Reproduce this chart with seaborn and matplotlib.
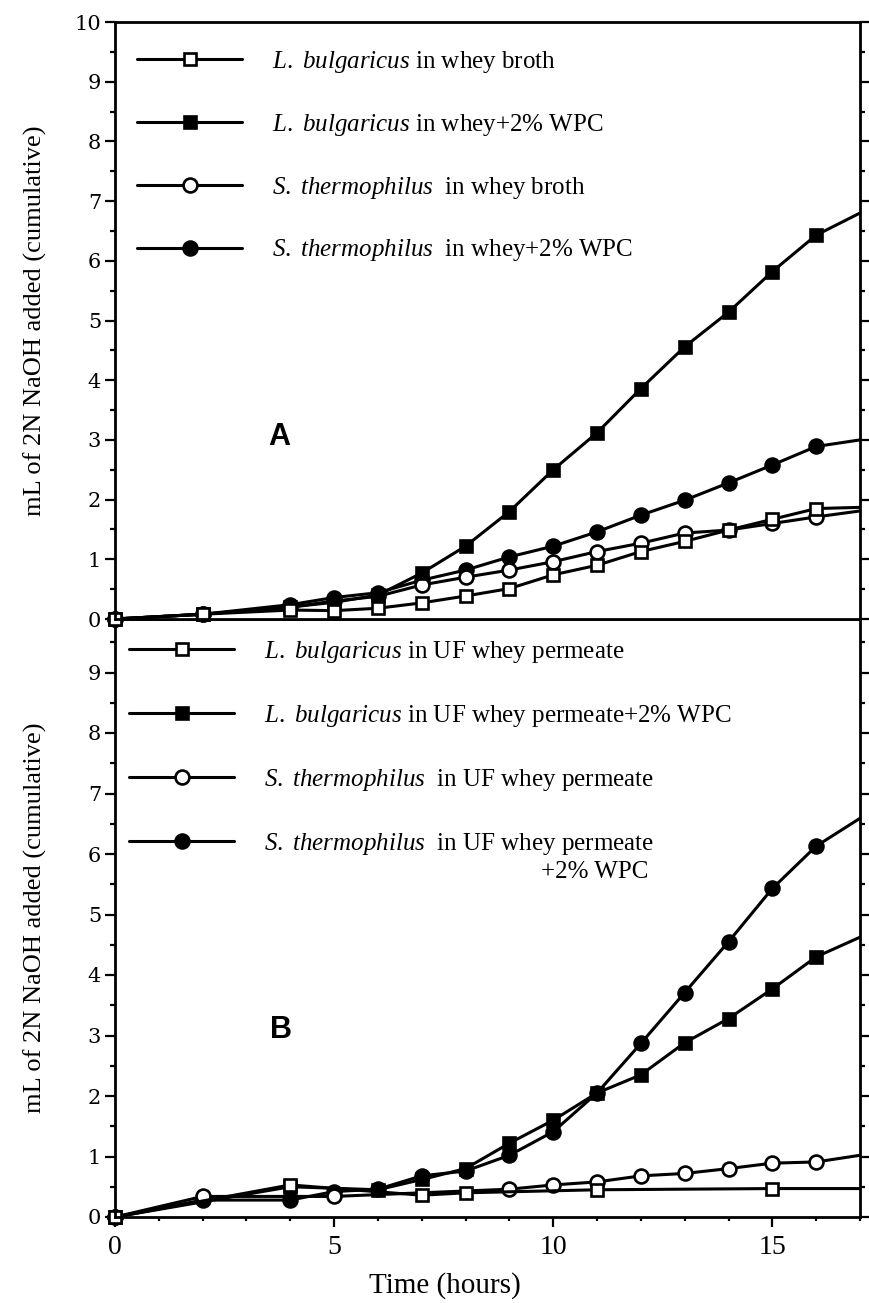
import numpy as np
import pandas as pd
import matplotlib
matplotlib.use("Agg")
import matplotlib.pyplot as plt
import seaborn as sns
from matplotlib.patches import Rectangle
from matplotlib.ticker import MultipleLocator

# ---------------- data ----------------
# Panel A
time_a = [0, 2, 4, 5, 6, 7, 8, 9, 10, 11, 12, 13, 14, 15, 16, 18]
lb_whey = [0, 0.08, 0.15, 0.14, 0.18, 0.27, 0.385, 0.51, 0.74, 0.90, 1.13, 1.30, 1.49, 1.67, 1.85, 1.89]
lb_whey_wpc = [0, 0.08, 0.20, 0.28, 0.40, 0.77, 1.22, 1.80, 2.50, 3.12, 3.86, 4.56, 5.14, 5.82, 6.43, 7.17]
st_whey = [0, 0.08, 0.20, 0.30, 0.38, 0.57, 0.70, 0.82, 0.96, 1.13, 1.27, 1.44, 1.49, 1.60, 1.71, 1.91]
st_whey_wpc = [0, 0.08, 0.24, 0.36, 0.44, 0.65, 0.82, 1.04, 1.22, 1.46, 1.74, 1.99, 2.28, 2.58, 2.89, 3.11]

# Panel B
time_b_lb = [0, 4, 7, 8, 11, 15, 18]
lb_uf = [0, 0.53, 0.36, 0.40, 0.45, 0.47, 0.47]
time_b_lb_wpc = [0, 4, 6, 7, 8, 9, 10, 11, 12, 13, 14, 15, 16, 18]
lb_uf_wpc = [0, 0.50, 0.45, 0.62, 0.80, 1.22, 1.60, 2.05, 2.35, 2.88, 3.28, 3.77, 4.30, 4.95]
time_b_st = [0, 2, 5, 9, 10, 11, 12, 13, 14, 15, 16, 18]
st_uf = [0, 0.34, 0.34, 0.46, 0.53, 0.58, 0.68, 0.72, 0.80, 0.89, 0.91, 1.13]
time_b_st_wpc = [0, 2, 4, 5, 6, 7, 8, 9, 10, 11, 12, 13, 14, 15, 16, 18]
st_uf_wpc = [0, 0.28, 0.28, 0.42, 0.46, 0.68, 0.76, 1.02, 1.41, 2.05, 2.87, 3.71, 4.55, 5.43, 6.13, 7.05]

labels_a = [r"$\mathit{L.\ bulgaricus}$ in whey broth",
            r"$\mathit{L.\ bulgaricus}$ in whey+2% WPC",
            r"$\mathit{S.\ thermophilus}$  in whey broth",
            r"$\mathit{S.\ thermophilus}$  in whey+2% WPC"]
labels_b = [r"$\mathit{L.\ bulgaricus}$ in UF whey permeate",
            r"$\mathit{L.\ bulgaricus}$ in UF whey permeate+2% WPC",
            r"$\mathit{S.\ thermophilus}$  in UF whey permeate",
            r"$\mathit{S.\ thermophilus}$  in UF whey permeate"]
extra_b = "+2% WPC"
ylabel = "mL of 2N NaOH added (cumulative)"
xlabel = "Time (hours)"

# ---------------- style ----------------
sns.set_style("ticks")
plt.rcParams["font.family"] = ["Liberation Serif", "DejaVu Serif"]
plt.rcParams["mathtext.fontset"] = "custom"
plt.rcParams["mathtext.rm"] = "Liberation Serif"
plt.rcParams["mathtext.it"] = "Liberation Serif:italic"
plt.rcParams["axes.linewidth"] = 2.0
for k in ("text.color", "axes.labelcolor", "xtick.color", "ytick.color", "axes.edgecolor"):
    plt.rcParams[k] = "black"

fig = plt.figure(figsize=(8.69, 13.03), dpi=100)
W, H = 869, 1303
left_px, right_px = 115, 860
a_top, a_bot = 22, 619
b_top, b_bot = 619, 1217
ax_a = fig.add_axes([left_px / W, 1 - a_bot / H, (right_px - left_px) / W, (a_bot - a_top) / H])
ax_b = fig.add_axes([left_px / W, 1 - b_bot / H, (right_px - left_px) / W, (b_bot - b_top) / H])
ax_a.set_zorder(3)

styles = {
    "sq_open": dict(marker="s", mfc="white", ms=9),
    "sq_fill": dict(marker="s", mfc="black", ms=9),
    "ci_open": dict(marker="o", mfc="white", ms=10),
    "ci_fill": dict(marker="o", mfc="black", ms=10),
}


def draw(ax, t, v, key):
    sns.lineplot(x=t, y=v, ax=ax, color="black", lw=2.2, mec="black", mew=1.9,
                 label="_nolegend_", **styles[key])
    return ax.get_lines()[-1]


# draw order: filled circles, open circles, filled squares, open squares
h_a = [None] * 4
h_a[3] = draw(ax_a, time_a, st_whey_wpc, "ci_fill")
h_a[2] = draw(ax_a, time_a, st_whey, "ci_open")
h_a[1] = draw(ax_a, time_a, lb_whey_wpc, "sq_fill")
h_a[0] = draw(ax_a, time_a, lb_whey, "sq_open")

h_b = [None] * 4
h_b[3] = draw(ax_b, time_b_st_wpc, st_uf_wpc, "ci_fill")
h_b[2] = draw(ax_b, time_b_st, st_uf, "ci_open")
h_b[1] = draw(ax_b, time_b_lb_wpc, lb_uf_wpc, "sq_fill")
h_b[0] = draw(ax_b, time_b_lb, lb_uf, "sq_open")

for ax, ymax in ((ax_a, 10), (ax_b, (b_bot - b_top) / 60.5)):
    ax.set_xlim(0, 17)
    ax.set_ylim(0, ymax)
    # clip on the right edge only, allow markers to overflow left/bottom
    for ln in ax.get_lines():
        clip = Rectangle((-0.1, -0.1), 1.1, 1.2, transform=ax.transAxes)
        ln.set_clip_path(clip)
    ax.yaxis.set_major_locator(MultipleLocator(1))
    ax.yaxis.set_minor_locator(MultipleLocator(0.5))
    ax.tick_params(axis="y", which="both", direction="out", left=True, right=True,
                   labelleft=True, labelright=False, width=1.6, colors="black")
    ax.tick_params(axis="y", which="major", length=7, labelsize=15, pad=3)
    ax.tick_params(axis="y", which="minor", length=3.5)
    for lab in ax.get_yticklabels():
        lab.set_family("DejaVu Serif")
    ax.set_ylabel(ylabel, fontsize=19)
    ax.yaxis.set_label_coords((47 - left_px) / (right_px - left_px), 0.5)
    for s in ax.spines.values():
        s.set_visible(True)
        s.set_linewidth(2.0)
        s.set_color("black")

ax_a.set_yticks(range(0, 11))
ax_b.set_yticks(range(0, 10))
ax_a.tick_params(axis="x", which="both", bottom=False, top=False, labelbottom=False)
ax_a.set_xlabel("")

ax_b.xaxis.set_major_locator(MultipleLocator(5))
ax_b.xaxis.set_minor_locator(MultipleLocator(1))
ax_b.tick_params(axis="x", which="both", direction="out", top=False, bottom=True, width=1.6,
                 colors="black")
ax_b.tick_params(axis="x", which="major", length=7, labelsize=20, pad=6)
ax_b.tick_params(axis="x", which="minor", length=3)
ax_b.set_xlabel(xlabel, fontsize=21)
ax_b.xaxis.set_label_coords((445 - left_px) / (right_px - left_px), (b_bot - 1272) / (b_bot - b_top))

# legends
def make_legend(ax, handles, labels, anchor, spacing):
    ax.legend(handles, labels, loc="upper left",
              bbox_to_anchor=anchor, frameon=False, fontsize=18, handlelength=4.2,
              handletextpad=1.2, labelspacing=spacing, borderpad=0, borderaxespad=0)

make_legend(ax_a, h_a, labels_a, ((137 - left_px) / (right_px - left_px), (a_bot - 49) / (a_bot - a_top)), 1.47)
make_legend(ax_b, h_b, labels_b, ((129 - left_px) / (right_px - left_px), (b_bot - 639) / (b_bot - b_top)), 1.52)

ax_b.text((541 - left_px) / (right_px - left_px), (b_bot - 872) / (b_bot - b_top), extra_b,
          transform=ax_b.transAxes, fontsize=18, ha="left", va="center")

ax_a.text((279 - left_px) / (right_px - left_px), (a_bot - 437) / (a_bot - a_top), "A",
          transform=ax_a.transAxes, fontsize=22, fontweight="bold", family="Liberation Sans",
          ha="center", va="center")
ax_b.text((281 - left_px) / (right_px - left_px), (b_bot - 1030) / (b_bot - b_top), "B",
          transform=ax_b.transAxes, fontsize=22, fontweight="bold", family="Liberation Sans",
          ha="center", va="center")

fig.savefig("out.png", dpi=100)
